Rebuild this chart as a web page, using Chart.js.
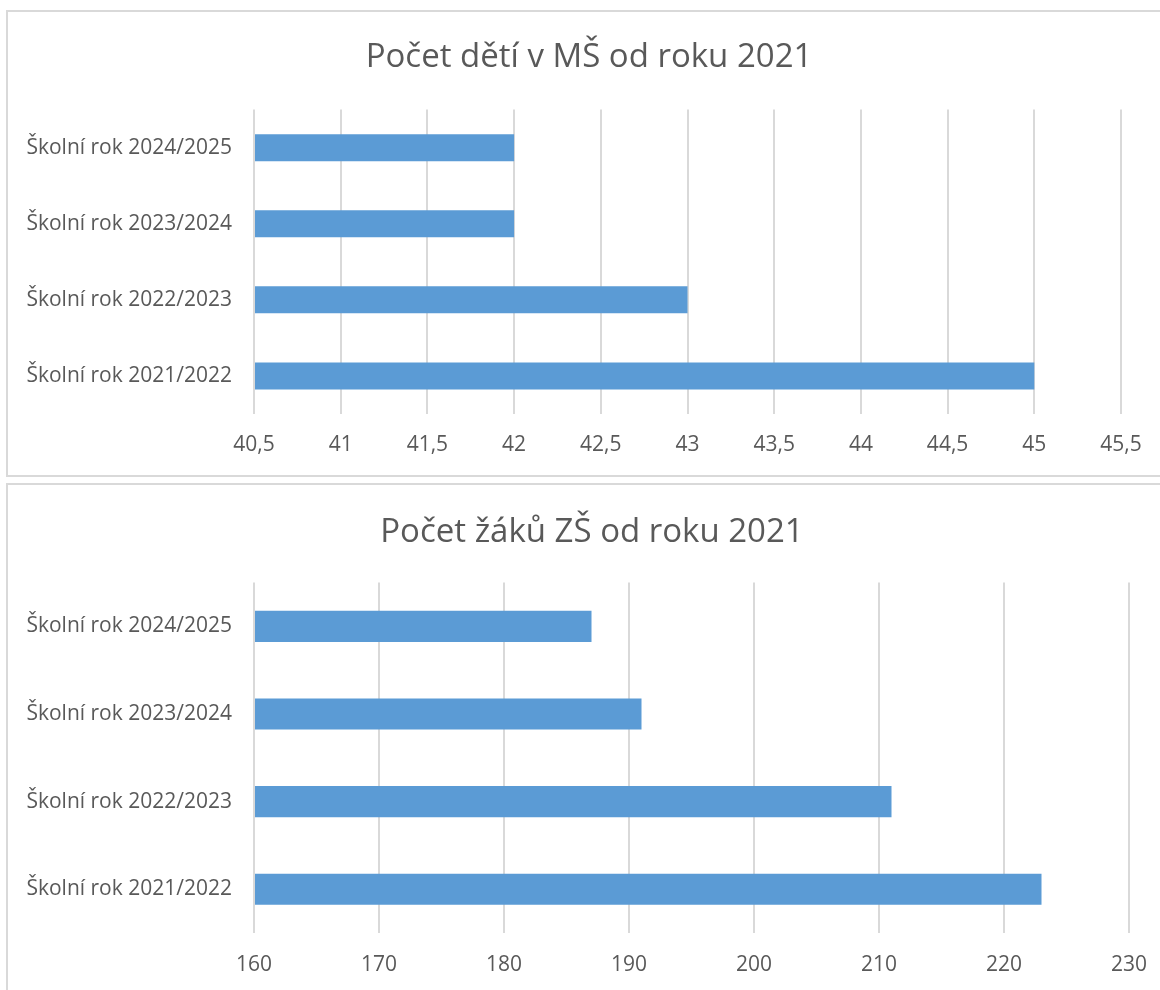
<!DOCTYPE html>
<html>
<head>
<meta charset="utf-8">
<script src="https://cdn.jsdelivr.net/npm/chart.js@4.4.1/dist/chart.umd.min.js"></script>
<style>
  html, body { margin: 0; padding: 0; background: #fff; overflow: hidden; }
  body { width: 1160px; height: 990px; position: relative; }
  .box { position: absolute; border: 2px solid #d9d9d9; box-sizing: border-box; }
  canvas { position: absolute; left: 0; }
</style>
</head>
<body>
<div class="box" style="left:6px; top:10px; width:1200px; height:467px;"></div>
<div class="box" style="left:6px; top:483px; width:1200px; height:540px;"></div>
<canvas id="msChart" width="1178" height="465" style="top:10px"></canvas>
<canvas id="zsChart" width="1184" height="506" style="top:484px"></canvas>
<script>
const categories = [
  "Školní rok 2021/2022",
  "Školní rok 2022/2023",
  "Školní rok 2023/2024",
  "Školní rok 2024/2025"
];
const msValues = [45, 43, 42, 42];
const zsValues = [223, 211, 191, 187];
const msTicks = [40.5, 41, 41.5, 42, 42.5, 43, 43.5, 44, 44.5, 45, 45.5];
const zsTicks = [160, 170, 180, 190, 200, 210, 220, 230];

const textColor = "#595959";
const gridColor = "#d9d9d9";
const barColor = "#5b9bd5";
const fontFamily = "'Open Sans', sans-serif";

// centre the title on the whole canvas, not on the padded area
const fullWidthTitle = {
  id: "fullWidthTitle",
  afterLayout(chart) {
    chart.titleBlock.left = 0;
    chart.titleBlock.right = chart.width;
  }
};

function makeChart(id, title, values, ticks, opts) {
  const ctx = document.getElementById(id).getContext("2d");
  return new Chart(ctx, {
    type: "bar",
    data: {
      labels: categories,
      datasets: [{
        data: values,
        backgroundColor: barColor,
        borderWidth: 0,
        categoryPercentage: 1,
        barPercentage: 0.355,
        base: ticks[0]
      }]
    },
    plugins: [fullWidthTitle],
    options: {
      indexAxis: "y",
      responsive: false,
      animation: false,
      layout: { padding: { left: 0, right: opts.right, top: 0, bottom: 0 } },
      plugins: {
        legend: { display: false },
        tooltip: { enabled: false },
        title: {
          display: true,
          text: title,
          color: textColor,
          font: { family: fontFamily, size: 33, weight: "normal" },
          padding: { top: opts.titleTop, bottom: opts.titleGap }
        }
      },
      scales: {
        y: {
          reverse: true,
          grid: { display: false },
          border: { display: false },
          ticks: {
            color: textColor,
            font: { family: fontFamily, size: 21 },
            padding: 14
          },
          afterFit: scale => { scale.width = 254; }
        },
        x: {
          min: ticks[0],
          max: ticks[ticks.length - 1],
          grid: { color: gridColor, lineWidth: 2, drawTicks: false },
          border: { display: false },
          afterBuildTicks: axis => { axis.ticks = ticks.map(v => ({ value: v })); },
          ticks: {
            color: textColor,
            font: { family: fontFamily, size: 21 },
            padding: opts.tickPad,
            maxRotation: 0,
            autoSkip: false,
            callback: v => String(v).replace(".", ",")
          },
          afterFit: scale => { scale.height = opts.axisH; }
        }
      }
    }
  });
}

makeChart("msChart", "Počet dětí v MŠ od roku 2021", msValues, msTicks,
  { right: 57, titleTop: 28, titleGap: 32, tickPad: 18, axisH: 61 });
makeChart("zsChart", "Počet žáků ZŠ od roku 2021", zsValues, zsTicks,
  { right: 55, titleTop: 29, titleGap: 30, tickPad: 19, axisH: 57 });
</script>
</body>
</html>
